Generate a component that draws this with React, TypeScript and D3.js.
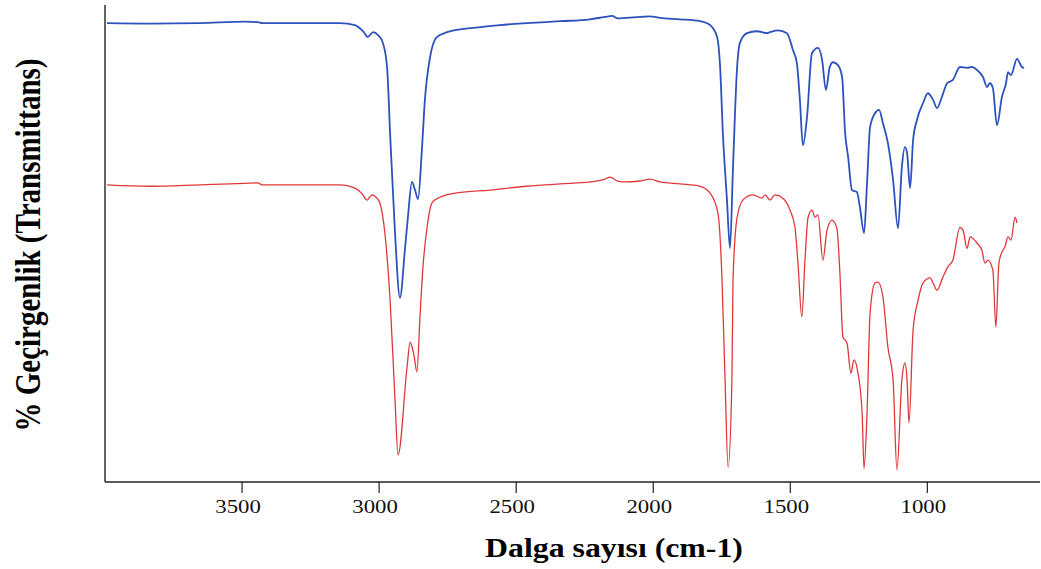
import React from "react";
import * as d3 from "d3";

// FTIR spectra: wavenumber (cm-1) and % transmittance, upper (blue) and lower (red) samples
const blueWavenumber = [3993, 3836, 3653, 3489, 3442, 3427, 3289, 3143, 3088, 3059, 3041, 3022, 3004, 2986, 2971, 2960, 2942, 2924, 2906, 2895, 2880, 2869, 2858, 2844, 2833, 2814, 2789, 2752, 2658, 2559, 2461, 2340, 2231, 2176, 2150, 2129, 2103, 2048, 2012, 1975, 1902, 1829, 1793, 1767, 1756, 1746, 1731, 1720, 1709, 1694, 1684, 1658, 1622, 1585, 1574, 1545, 1512, 1490, 1476, 1465, 1454, 1439, 1421, 1399, 1384, 1370, 1356, 1344, 1326, 1311, 1300, 1289, 1275, 1257, 1246, 1231, 1220, 1209, 1191, 1176, 1162, 1144, 1125, 1107, 1093, 1082, 1074, 1063, 1052, 1038, 1016, 998, 979, 965, 947, 928, 907, 881, 855, 837, 819, 797, 782, 772, 761, 746, 728, 713, 706, 695, 673, 655, 647];
const blueTransmittance = [96.2, 96.1, 96.2, 96.5, 96.4, 96.2, 96.2, 96.2, 95.8, 94.5, 93.3, 94.3, 93.7, 92.0, 87.0, 73.2, 52.2, 38.6, 48.6, 55.5, 62.9, 61.2, 59.3, 69.6, 80.1, 89.1, 93.3, 94.3, 95.2, 95.8, 96.2, 96.6, 97.0, 97.5, 97.7, 97.2, 97.3, 97.5, 97.6, 97.3, 97.0, 96.6, 95.8, 93.3, 87.0, 73.2, 59.1, 49.0, 66.0, 87.0, 92.0, 94.1, 94.5, 94.1, 94.3, 94.7, 94.1, 90.5, 87.8, 80.1, 70.6, 76.5, 89.9, 91.0, 88.5, 82.2, 87.0, 88.0, 87.4, 84.9, 73.2, 68.1, 61.2, 60.8, 57.6, 52.2, 62.7, 74.4, 77.3, 78.0, 75.2, 71.1, 63.3, 53.2, 66.0, 70.2, 69.0, 61.6, 71.7, 75.9, 79.4, 81.5, 80.1, 78.4, 80.7, 83.6, 84.3, 87.0, 86.8, 87.0, 86.4, 84.9, 82.8, 83.6, 82.6, 74.8, 80.7, 83.6, 85.9, 85.3, 88.7, 87.0, 86.8];

const redWavenumber = [3993, 3836, 3653, 3489, 3442, 3427, 3289, 3143, 3088, 3062, 3044, 3026, 3008, 2997, 2979, 2960, 2942, 2931, 2898, 2887, 2873, 2862, 2851, 2840, 2825, 2807, 2778, 2716, 2596, 2461, 2340, 2231, 2176, 2158, 2129, 2103, 2048, 2012, 1975, 1902, 1829, 1793, 1764, 1749, 1738, 1727, 1713, 1709, 1694, 1673, 1636, 1603, 1592, 1574, 1556, 1527, 1501, 1483, 1472, 1458, 1447, 1435, 1421, 1410, 1399, 1381, 1366, 1348, 1330, 1319, 1308, 1293, 1279, 1268, 1253, 1238, 1231, 1220, 1209, 1191, 1180, 1162, 1144, 1125, 1111, 1093, 1082, 1074, 1067, 1052, 1034, 1016, 990, 979, 965, 943, 925, 907, 881, 870, 855, 844, 819, 801, 790, 779, 761, 750, 739, 728, 717, 706, 695, 680, 673];
const redTransmittance = [62.3, 62.0, 62.3, 62.6, 62.7, 62.3, 62.3, 62.3, 61.6, 60.4, 59.1, 60.2, 59.5, 58.5, 52.2, 38.1, 17.2, 5.7, 24.1, 29.3, 26.6, 23.1, 34.6, 45.1, 53.4, 58.5, 59.7, 60.6, 61.2, 62.0, 62.5, 62.9, 63.5, 63.9, 63.1, 62.9, 63.1, 63.5, 62.9, 62.5, 62.0, 60.6, 56.4, 42.3, 21.4, 3.1, 21.4, 42.3, 55.5, 59.1, 60.2, 59.5, 60.2, 59.1, 60.2, 59.5, 57.0, 53.4, 45.9, 34.6, 45.9, 55.5, 57.0, 55.5, 56.0, 46.5, 52.8, 54.9, 53.2, 43.8, 30.4, 29.1, 22.8, 25.6, 22.8, 14.5, 2.9, 14.5, 35.4, 41.7, 41.9, 38.8, 28.3, 21.4, 2.5, 21.4, 24.9, 21.4, 12.4, 31.9, 38.1, 41.7, 42.8, 41.7, 40.2, 43.0, 45.1, 46.5, 53.4, 52.8, 49.0, 51.4, 50.1, 48.6, 45.9, 46.5, 44.4, 32.5, 45.9, 48.2, 49.3, 51.4, 50.7, 55.5, 54.3];

const xTicks = [3500, 3000, 2500, 2000, 1500, 1000];

const xTitle = "Dalga sayısı (cm-1)";
const yTitle = "% Geçirgenlik (Transmittans)";

const W = 1041;
const H = 569;
const left = 105;
const right = 1037;
const top = 5;
const bottom = 482;

const serifStyle = { fontFamily: "Liberation Serif, DejaVu Serif, serif" };
// text in this figure is set slightly wide
const stretch = 1.2;

export default function App() {
  const x = d3.scaleLinear().domain([4000, 600]).range([left, right]);
  const y = d3.scaleLinear().domain([0, 100]).range([bottom, top]);

  const line = d3
    .line<[number, number]>()
    .x((d) => x(d[0]))
    .y((d) => y(d[1]))
    .curve(d3.curveMonotoneX);

  const blue = blueWavenumber.map((w, i) => [w, blueTransmittance[i]] as [number, number]);
  const red = redWavenumber.map((w, i) => [w, redTransmittance[i]] as [number, number]);

  return (
    <svg
      width={W}
      height={H}
      style={{ position: "absolute", left: 0, top: 0, background: "#fff" }}
    >
      <path d={line(blue) ?? ""} fill="none" stroke="#2d52bd" strokeWidth={1.8} strokeLinejoin="round" />
      <path d={line(red) ?? ""} fill="none" stroke="#e0383a" strokeWidth={1.3} strokeLinejoin="round" />

      {/* axes */}
      <line x1={left} x2={left} y1={top} y2={bottom} stroke="#222" strokeWidth={1.4} />
      <line x1={left} x2={1040} y1={bottom} y2={bottom} stroke="#222" strokeWidth={1.4} />
      {xTicks.map((t) => (
        <g key={t} transform={`translate(${x(t)},${bottom})`}>
          <line y1={0} y2={11} stroke="#222" strokeWidth={1.2} />
          <text
            transform={`translate(-4,31) scale(${stretch},1)`}
            textAnchor="middle"
            style={serifStyle}
            fontSize={19}
            fill="#111"
          >
            {t}
          </text>
        </g>
      ))}

      <text
        transform={`translate(614,557) scale(${stretch},1)`}
        textAnchor="middle"
        style={serifStyle}
        fontWeight="bold"
        fontSize={26.5}
        fill="#000"
      >
        {xTitle}
      </text>
      <text
        transform={`translate(40,245) scale(${stretch},1) rotate(-90)`}
        textAnchor="middle"
        style={serifStyle}
        fontWeight="bold"
        fontSize={29}
        fill="#000"
      >
        {yTitle}
      </text>
    </svg>
  );
}
